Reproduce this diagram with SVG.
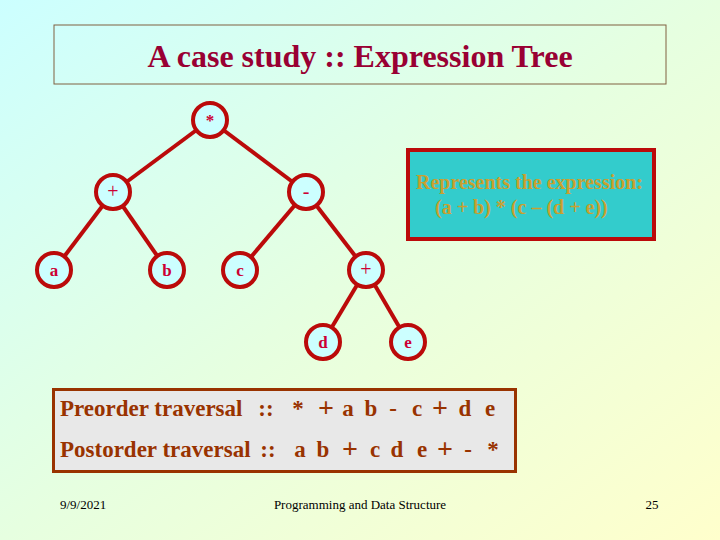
<svg xmlns="http://www.w3.org/2000/svg" width="720" height="540" viewBox="0 0 720 540">
<defs>
<linearGradient id="bg" x1="0" y1="0" x2="1" y2="1">
<stop offset="0" stop-color="#ccffff"/>
<stop offset="0.5" stop-color="#e6ffe0"/>
<stop offset="1" stop-color="#ffffcc"/>
</linearGradient>
<style>
.edge{stroke:#bb0a0a;stroke-width:4;fill:none}
.node circle{fill:#ccffff;stroke:#bb0a0a;stroke-width:4}
.node text{font-family:"Liberation Serif",serif;font-weight:bold;font-size:17px;fill:#cc0033;text-anchor:middle}
.node text.op{font-weight:normal;font-size:20px}
.trav{font-family:"Liberation Serif",serif;font-weight:bold;font-size:23px;fill:#993300}
.trav tspan{text-anchor:middle}
.trav .pl{font-size:28px}
.foot{font-family:"Liberation Serif",serif;font-size:13px;fill:#000}
</style>
</defs>
<rect width="720" height="540" fill="url(#bg)"/>
<g id="title">
<rect x="54" y="25" width="612" height="59" fill="none" stroke="#806040" stroke-width="1"/>
<text x="360" y="67" text-anchor="middle" font-family="Liberation Serif, serif" font-weight="bold" font-size="32" fill="#990033">A case study :: Expression Tree</text>
</g>
<g id="connectors">
<line class="edge" x1="210" y1="120" x2="113" y2="192"/>
<line class="edge" x1="210" y1="120" x2="306" y2="192"/>
<line class="edge" x1="113" y1="192" x2="54" y2="270"/>
<line class="edge" x1="113" y1="192" x2="167" y2="270"/>
<line class="edge" x1="306" y1="192" x2="240" y2="270"/>
<line class="edge" x1="306" y1="192" x2="366" y2="270"/>
<line class="edge" x1="366" y1="270" x2="323" y2="342"/>
<line class="edge" x1="366" y1="270" x2="408" y2="342"/>
</g>
<g id="n-mul" class="node"><circle cx="210" cy="120" r="17"/><text x="210" y="126">*</text></g>
<g id="n-plus1" class="node"><circle cx="113" cy="192" r="17"/><text class="op" x="113" y="198">+</text></g>
<g id="n-minus" class="node"><circle cx="306" cy="192" r="17"/><text class="op" x="306" y="198">-</text></g>
<g id="n-a" class="node"><circle cx="54" cy="270" r="17"/><text x="54" y="276">a</text></g>
<g id="n-b" class="node"><circle cx="167" cy="270" r="17"/><text x="167" y="276">b</text></g>
<g id="n-c" class="node"><circle cx="240" cy="270" r="17"/><text x="240" y="276">c</text></g>
<g id="n-plus2" class="node"><circle cx="366" cy="270" r="17"/><text class="op" x="366" y="276">+</text></g>
<g id="n-d" class="node"><circle cx="323" cy="342" r="17"/><text x="323" y="348">d</text></g>
<g id="n-e" class="node"><circle cx="408" cy="342" r="17"/><text x="408" y="348">e</text></g>
<g id="note">
<rect x="408" y="150" width="246" height="89" fill="#33cccc" stroke="#bb0a0a" stroke-width="4"/>
<text font-family="Liberation Serif, serif" font-weight="bold" font-size="20" fill="#c9a030">
<tspan x="416" y="189">Represents the expression:</tspan>
<tspan x="435" y="214">(a + b) * (c – (d + e))</tspan>
</text>
</g>
<g id="traversal">
<rect x="53.5" y="389.5" width="462" height="82" fill="#e8e8e8" stroke="#993300" stroke-width="3"/>
<text class="trav" y="416"><tspan x="60" y="416" style="text-anchor:start">Preorder traversal</tspan><tspan x="266" y="416">::</tspan><tspan x="298" y="416">*</tspan><tspan class="pl" x="326" y="417">+</tspan><tspan x="348" y="416">a</tspan><tspan x="371" y="416">b</tspan><tspan x="393" y="416">-</tspan><tspan x="417" y="416">c</tspan><tspan class="pl" x="440" y="417">+</tspan><tspan x="465" y="416">d</tspan><tspan x="490" y="416">e</tspan></text>
<text class="trav" y="457"><tspan x="60" y="457" style="text-anchor:start">Postorder traversal</tspan><tspan x="268" y="457">::</tspan><tspan x="300" y="457">a</tspan><tspan x="323" y="457">b</tspan><tspan class="pl" x="350" y="458">+</tspan><tspan x="375" y="457">c</tspan><tspan x="397" y="457">d</tspan><tspan x="422" y="457">e</tspan><tspan class="pl" x="445" y="458">+</tspan><tspan x="468" y="457">-</tspan><tspan x="493" y="457">*</tspan></text>
</g>
<g id="footer">
<text class="foot" x="60" y="509">9/9/2021</text>
<text class="foot" x="360" y="509" text-anchor="middle">Programming and Data Structure</text>
<text class="foot" x="652" y="509" text-anchor="middle">25</text>
</g>
</svg>
